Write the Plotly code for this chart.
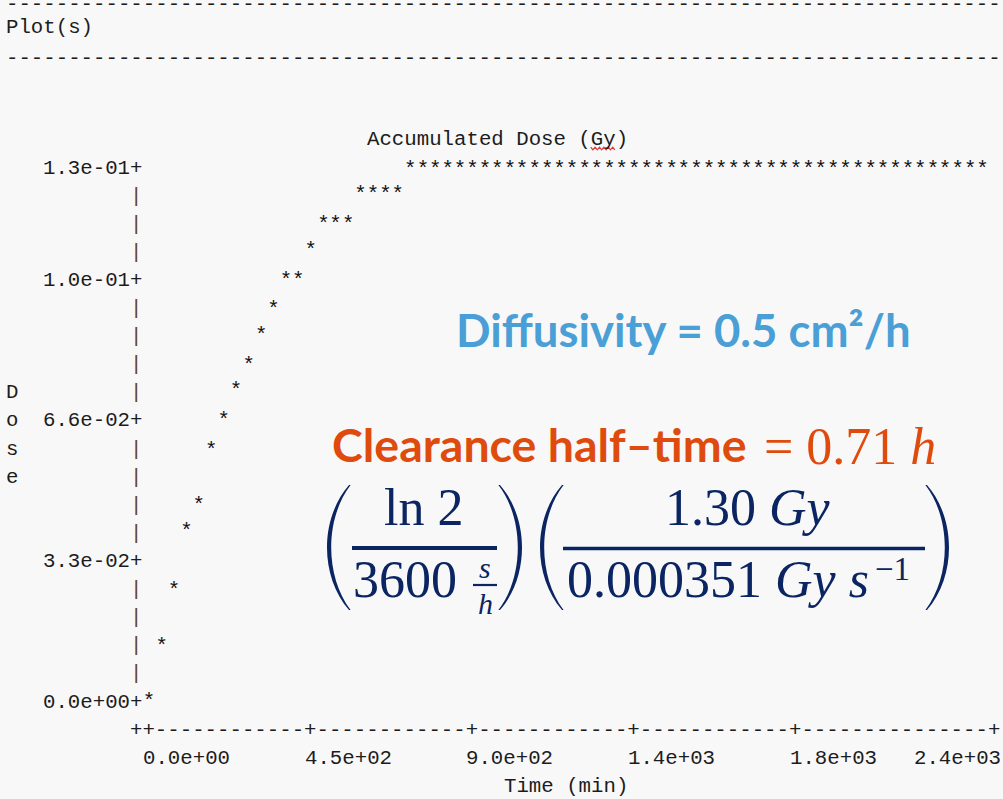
import plotly.graph_objects as go

# ---------------- data ----------------
time_min = [0, 35, 69, 104, 138, 173, 208, 242, 277, 312, 346, 381, 415, 450,
            485, 519, 554, 588, 623, 658, 692, 727, 762, 796, 831, 865, 900, 935,
            969, 1004, 1038, 1073, 1108, 1142, 1177, 1212, 1246, 1281, 1315, 1350,
            1385, 1419, 1454, 1488, 1523, 1558, 1592, 1627, 1662, 1696, 1731, 1765,
            1800, 1835, 1869, 1904, 1938, 1973, 2008, 2042, 2077, 2112, 2146, 2181,
            2215, 2250, 2285, 2319]
dose_gy = [0.0, 0.013, 0.026, 0.040, 0.046, 0.059, 0.066, 0.073, 0.079, 0.086,
           0.092, 0.099, 0.099, 0.106, 0.112, 0.112, 0.112, 0.119, 0.119, 0.119,
           0.119, 0.125, 0.125, 0.125, 0.125, 0.125, 0.125, 0.125, 0.125, 0.125,
           0.125, 0.125, 0.125, 0.125, 0.125, 0.125, 0.125, 0.125, 0.125, 0.125,
           0.125, 0.125, 0.125, 0.125, 0.125, 0.125, 0.125, 0.125, 0.125, 0.125,
           0.125, 0.125, 0.125, 0.125, 0.125, 0.125, 0.125, 0.125, 0.125, 0.125,
           0.125, 0.125, 0.125, 0.125, 0.125, 0.125, 0.125, 0.125]

y_tick_vals = [0.0, 0.033, 0.066, 0.099, 0.1254]
y_tick_text = ["0.0e+00", "3.3e-02", "6.6e-02", "1.0e-01", "1.3e-01"]
x_tick_vals = [0, 450, 900, 1350, 1800, 2354]
x_tick_text = ["0.0e+00", "4.5e+02", "9.0e+02", "1.4e+03", "1.8e+03", "2.4e+03"]

plot_header = "Plot(s)"
plot_title = "Accumulated Dose (Gy)"
x_title = "Time (min)"
y_title = "Dose"

# ---------------- character grid geometry ----------------
W, H = 1003, 799
CW = 12.44          # char cell width (px)
RH = 28.105         # row height (px)
COL0 = 6.0          # left edge of column 0
ROW0 = 168.0        # centre of row 0 (top data row)
ORIGIN_COL, ORIGIN_ROW = 11, 19
MIN_PER_COL = 450 / 13
DOSE_PER_ROW = 0.0066

MONO = "Liberation Mono"
FS = 20.73
INK = "#1c1c1c"
BAR_INK = "#654428"
BG = "#f8f8f8"

x_org_px = COL0 + (ORIGIN_COL + 0.5) * CW
y_org_px = ROW0 + ORIGIN_ROW * RH
px_per_min = CW / MIN_PER_COL
px_per_dose = RH / DOSE_PER_ROW
x_range = [(0 - x_org_px) / px_per_min, (W - x_org_px) / px_per_min]
y_range = [(y_org_px - H) / px_per_dose, y_org_px / px_per_dose]


def col_x(c):
    return (COL0 + c * CW) / W


def row_y(r):
    return 1 - (ROW0 + r * RH) / H


fig = go.Figure()
fig.add_trace(go.Scatter(
    x=time_min, y=dose_gy, mode="text", text=["*"] * len(time_min),
    textposition="middle center", cliponaxis=False, hoverinfo="skip",
    textfont=dict(family=MONO, size=FS, color="#111111"), showlegend=False))

annotations = []


def ascii_text(text, col, row, color=INK, yshift=0):
    annotations.append(dict(
        x=col_x(col), y=row_y(row), xref="paper", yref="paper", text=text,
        showarrow=False, xanchor="left", yanchor="middle", borderpad=0,
        borderwidth=0, yshift=yshift, font=dict(family=MONO, size=FS, color=color)))


# header
ascii_text("-" * 80, 0, -5.83)
ascii_text(plot_header, 0, -5)
ascii_text("-" * 80, 0, -4, yshift=-3)
ascii_text(plot_title, 29, -1)

# y axis
tick_rows = {ORIGIN_ROW - round(v / DOSE_PER_ROW): (v, t) for v, t in zip(y_tick_vals, y_tick_text)}
for r in range(0, ORIGIN_ROW + 1):
    if r in tick_rows:
        v, t = tick_rows[r]
        annotations.append(dict(
            x=col_x(3), y=v, xref="paper", yref="y", text=t + "+",
            showarrow=False, xanchor="left", yanchor="middle", borderpad=0,
            borderwidth=0, font=dict(family=MONO, size=FS, color=INK)))
    else:
        ascii_text("|", 10, r, BAR_INK)
for i, ch in enumerate(y_title):
    ascii_text(ch, 0, 8 + i)

# x axis line
tick_cols = [ORIGIN_COL + round(v / MIN_PER_COL) for v in x_tick_vals]
line = "".join("+" if (c == 10 or c in tick_cols) else "-" for c in range(10, max(tick_cols) + 1))
ascii_text(line, 10, ORIGIN_ROW + 1)
for v, t, c in zip(x_tick_vals, x_tick_text, tick_cols):
    right = c + len(t) > 80
    annotations.append(dict(
        x=v, y=row_y(ORIGIN_ROW + 2), xref="x", yref="paper", text=t,
        showarrow=False, xanchor="right" if right else "left",
        xshift=CW / 2 if right else -CW / 2, yanchor="middle",
        borderpad=0, borderwidth=0, font=dict(family=MONO, size=FS, color=INK)))
ascii_text(x_title, 40, ORIGIN_ROW + 3)

# ---------------- overlaid slide text ----------------
SERIF = "Liberation Serif"
SANS = "Lato"
NAVY = "#0b2563"
ORANGE = "#df4b0d"
BLUE = "#4a9fd6"

ASC = {SERIF: (0.891, 0.216), SANS: (0.987, 0.213)}


def slide_text(text, x, baseline, size, family, color, anchor="left"):
    a, d = ASC[family]
    yc = baseline - (a - d) / 2 * size
    annotations.append(dict(
        x=x / W, y=1 - yc / H, xref="paper", yref="paper", text=text,
        showarrow=False, xanchor=anchor, yanchor="middle", borderpad=0,
        borderwidth=0, font=dict(family=family, size=size, color=color)))


slide_text("<b>Diffusivity = 0.5 cm²/h</b>", 456, 347, 45.5, SANS, BLUE)
slide_text("<b>Clearance half–time</b>", 332, 462, 46.5, SANS, ORANGE)
slide_text("= 0.71 <i>h</i>", 764, 464, 52, SERIF, ORANGE)

slide_text("ln 2", 423, 525, 52, SERIF, NAVY, "center")
slide_text("3600", 353, 597, 52, SERIF, NAVY)
slide_text("<i>s</i>", 485, 578, 30, SERIF, NAVY, "center")
slide_text("<i>h</i>", 485, 614, 30, SERIF, NAVY, "center")
slide_text("1.30 <i>Gy</i>", 665, 525, 52, SERIF, NAVY)
slide_text("0.000351 <i>Gy</i> <i>s</i>", 567, 597, 52, SERIF, NAVY)
slide_text("−1", 875, 580, 33, SERIF, NAVY)

shapes = []


def P(x, y):
    return f"{x / W:.5f},{1 - y / H:.5f}"


def paren(x_end, x_bulge, top, bot, thick=4.2, end=1.6):
    d = 1 if x_end > x_bulge else -1
    h = bot - top
    c_out = (x_bulge - 0.25 * x_end) / 0.75
    xi_end = x_end + d * end
    xi_mid = x_bulge + d * thick
    c_in = (xi_mid - 0.25 * xi_end) / 0.75
    path = (f"M {P(x_end, top)} C {P(c_out, top + 0.27 * h)} {P(c_out, bot - 0.27 * h)} {P(x_end, bot)} "
            f"L {P(xi_end, bot)} C {P(c_in, bot - 0.27 * h)} {P(c_in, top + 0.27 * h)} {P(xi_end, top)} Z")
    shapes.append(dict(type="path", path=path, xref="paper", yref="paper",
                       fillcolor=NAVY, line=dict(width=0)))


def bar(x0, x1, yc, t):
    shapes.append(dict(type="rect", xref="paper", yref="paper", x0=x0 / W, x1=x1 / W,
                       y0=1 - (yc + t / 2) / H, y1=1 - (yc - t / 2) / H,
                       fillcolor=NAVY, line=dict(width=0)))


paren(349, 327, 485, 610)
paren(500, 522, 485, 610)
paren(562, 540, 485, 610)
paren(927, 949, 485, 610)
bar(352, 497, 548, 4)
bar(563, 925, 548.5, 3.5)
bar(473, 497, 585, 2.2)

# red spell-check squiggle under "Gy" in the title
gx0 = COL0 + (29 + plot_title.index("Gy")) * CW
pts = []
x = gx0
k = 0
while x <= gx0 + 2 * CW:
    pts.append(P(x, 148.5 + (1.3 if k % 2 else -1.3)))
    x += 2.2
    k += 1
shapes.append(dict(type="path", path="M " + " L ".join(pts), xref="paper", yref="paper",
                   line=dict(color="#e03a3a", width=1.3)))

fig.update_layout(
    width=W, height=H, margin=dict(l=0, r=0, t=0, b=0),
    paper_bgcolor=BG, plot_bgcolor=BG, showlegend=False,
    xaxis=dict(range=x_range, visible=False, fixedrange=True),
    yaxis=dict(range=y_range, visible=False, fixedrange=True),
    annotations=annotations, shapes=shapes)

fig.write_html("out.html")
